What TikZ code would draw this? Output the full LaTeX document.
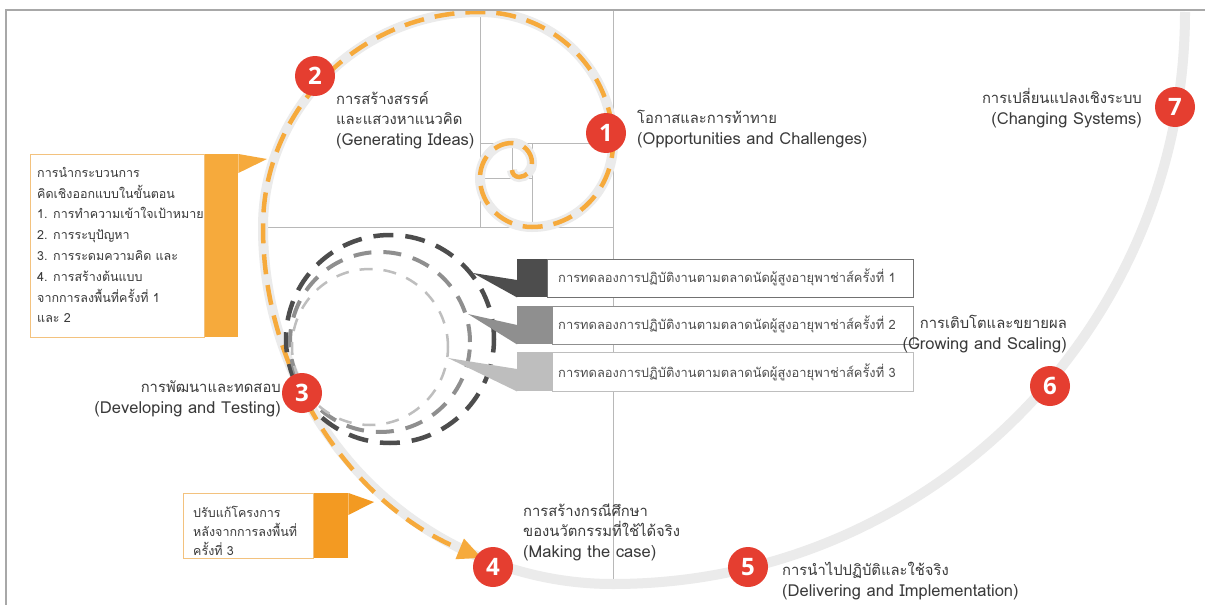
\documentclass[tikz,border=0pt]{standalone}
\usepackage{fontspec}
\setmainfont{Loma}[Script=Thai]
\newfontfamily\numfont{Open Sans}
\usetikzlibrary{arrows.meta}
\definecolor{track}{HTML}{EBEBEB}
\definecolor{orng}{HTML}{F6AA3C}
\definecolor{orngB}{HTML}{F39A22}
\definecolor{orngline}{HTML}{F3C27E}
\definecolor{redc}{HTML}{E53E30}
\definecolor{gridc}{HTML}{B8B8B8}
\definecolor{framec}{HTML}{A8A8A8}
\definecolor{dk}{HTML}{4D4D4D}
\definecolor{md}{HTML}{8F8F8F}
\definecolor{lt}{HTML}{BEBEBE}
\definecolor{txt}{HTML}{3A3A3A}
\newcommand\thl[1]{{\fontsize{14.8}{20.5}\selectfont #1}}
\newcommand\enl[1]{{\fontsize{16.5}{20.5}\selectfont #1}}
\tikzset{
  trackline/.style={draw=track, line width=10pt},
  orngdash/.style={draw=orng, line width=4.5pt, dash pattern=on 20pt off 11pt},
  gridline/.style={draw=gridc, line width=1pt},
  num/.style={circle, fill=redc, minimum size=40pt, inner sep=0pt, text=white,
    font=\numfont\bfseries\fontsize{24}{24}\selectfont},
  lbl/.style={inner sep=0pt, text=txt, font=\fontsize{14.8}{20.5}\selectfont},
  boxtxt/.style={inner sep=0pt, text=txt, align=left, font=\fontsize{12.5}{20.8}\selectfont},
  bartxt/.style={inner sep=0pt, text=txt!90, anchor=west, font=\fontsize{12.9}{15}\selectfont},
  barbox/.style={fill=white, line width=1.1pt, anchor=north west, inner sep=0pt}
}
\begin{document}
\begin{tikzpicture}[x=1pt,y=1pt]
\useasboundingbox (0,0) rectangle (1205,-605);
\fill[white] (0,0) rectangle (1205,-605);
\begin{scope}
\clip (0,-10) rectangle (1205,-605);
% golden grid
\draw[gridline] (613,-10) -- (613,-584);
\draw[gridline] (263,-227) -- (613,-227);
\draw[gridline] (480,-10) -- (480,-227);
\draw[gridline] (480,-143) -- (613,-143);
\draw[gridline] (532,-143) -- (532,-227);
\draw[gridline] (480,-178) -- (532,-178);
\draw[gridline] (512,-143) -- (512,-178);
% spiral track
\draw[trackline] (512,-170)
  arc[start angle=180,end angle=270,radius=7]
  arc[start angle=270,end angle=360,x radius=13,y radius=14]
  arc[start angle=0,end angle=90,radius=20]
  arc[start angle=90,end angle=180,x radius=32,y radius=35]
  arc[start angle=180,end angle=270,x radius=52,y radius=49]
  arc[start angle=270,end angle=360,x radius=81,y radius=84]
  arc[start angle=0,end angle=90,x radius=133,y radius=131]
  arc[start angle=90,end angle=180,x radius=217,y radius=215]
  arc[start angle=180,end angle=270,x radius=350,y radius=357]
  arc[start angle=270,end angle=360,radius=572];
% orange dashed part
\draw[orngdash, -{Triangle[length=24pt,width=21pt]}] (512,-170)
  arc[start angle=180,end angle=270,radius=7]
  arc[start angle=270,end angle=360,x radius=13,y radius=14]
  arc[start angle=0,end angle=90,radius=20]
  arc[start angle=90,end angle=180,x radius=32,y radius=35]
  arc[start angle=180,end angle=270,x radius=52,y radius=49]
  arc[start angle=270,end angle=360,x radius=81,y radius=84]
  arc[start angle=0,end angle=90,x radius=133,y radius=131]
  arc[start angle=90,end angle=180,x radius=217,y radius=215]
  arc[start angle=180,end angle=248,x radius=350,y radius=357];
\end{scope}
% frame
\draw[framec, line width=2pt] (6,-605) -- (6,-10) -- (1205,-10);
% dashed test loops
\draw[dk, line width=4.5pt, dash pattern=on 20pt off 12pt] (390,-339) circle[radius=104];
\draw[md, line width=4pt, dash pattern=on 18pt off 12pt] (380,-342) circle[radius=90];
\draw[lt, line width=2.5pt, dash pattern=on 13pt off 11pt] (370,-347) circle[radius=78];
% bars
\node[barbox, draw=dk!80, minimum width=366pt, minimum height=38pt] (bar1) at (547,-259) {};
\node[fill=dk, anchor=north west, minimum width=30pt, minimum height=38pt, inner sep=0pt] (tab1) at (517,-259) {};
\coordinate (tip1) at (473,-273);
\fill[dk] (tab1.west |- 0,-280) -- (tip1) -- (tab1.south west) -- cycle;
\node[bartxt] (t1) at (558,-277) {การทดลองการปฏิบัติงานตามตลาดนัดผู้สูงอายุพาช่าส์ครั้งที่ 1};
\node[barbox, draw=md, minimum width=361pt, minimum height=38pt] (bar2) at (552,-306) {};
\node[fill=md, anchor=north west, minimum width=35pt, minimum height=38pt, inner sep=0pt] (tab2) at (517,-306) {};
\coordinate (tip2) at (468,-314);
\fill[md] (tab2.west |- 0,-325) -- (tip2) -- (tab2.south west) -- cycle;
\node[bartxt] (t2) at (558,-324) {การทดลองการปฏิบัติงานตามตลาดนัดผู้สูงอายุพาช่าส์ครั้งที่ 2};
\node[barbox, draw=lt, minimum width=361pt, minimum height=39pt] (bar3) at (552,-352) {};
\node[fill=lt, anchor=north west, minimum width=35pt, minimum height=39pt, inner sep=0pt] (tab3) at (517,-352) {};
\coordinate (tip3) at (448,-358);
\fill[lt] (tab3.west |- 0,-369) -- (tip3) -- (tab3.south west) -- cycle;
\node[bartxt] (t3) at (558,-372) {การทดลองการปฏิบัติงานตามตลาดนัดผู้สูงอายุพาช่าส์ครั้งที่ 3};
% callout A
\node[draw=orngline, fill=white, line width=1pt, anchor=north west, minimum width=174pt, minimum height=183pt, inner sep=0pt] (boxA) at (30,-154) {};
\node[fill=orng, anchor=north west, minimum width=33pt, minimum height=183pt, inner sep=0pt] (tabA) at (boxA.north east) {};
\coordinate (tipA) at (267,-159);
\fill[orng] (tabA.north east) -- (tipA) -- ([yshift=-19pt]tabA.north east) -- cycle;
\node[boxtxt, anchor=west] (txtA) at (37,-245) {การนำกระบวนการ\\คิดเชิงออกแบบในขั้นตอน\\1. การทำความเข้าใจเป้าหมาย\\2. การระบุปัญหา\\3. การระดมความคิด และ\\4. การสร้างต้นแบบ\\จากการลงพื้นที่ครั้งที่ 1\\และ 2};
% callout B
\node[draw=orngline, fill=white, line width=1pt, anchor=north west, minimum width=130pt, minimum height=65pt, inner sep=0pt] (boxB) at (183,-493) {};
\node[fill=orngB, anchor=north west, minimum width=34pt, minimum height=65pt, inner sep=0pt] (tabB) at (boxB.north east) {};
\coordinate (tipB) at (374,-502);
\fill[orngB] (tabB.north east) -- (tipB) -- ([yshift=-22pt]tabB.north east) -- cycle;
\node[boxtxt, anchor=west, font=\fontsize{12.5}{19}\selectfont] (txtB) at (193,-531) {ปรับแก้โครงการ\\หลังจากการลงพื้นที่\\ครั้งที่ 3};
% stage markers
\node[num] (n1) at (606,-133) {1};
\node[num] (n2) at (315,-76) {2};
\node[num] (n3) at (302,-393) {3};
\node[num] (n4) at (493,-567) {4};
\node[num] (n5) at (748,-567) {5};
\node[num] (n6) at (1050,-386) {6};
\node[num] (n7) at (1175,-107) {7};
% labels
\node[lbl, anchor=west, align=left] (l1) at (637,-129) {\thl{โอกาสและการท้าทาย}\\\enl{(Opportunities and Challenges)}};
\node[lbl, anchor=west, align=left] (l2) at (336,-120) {\thl{การสร้างสรรค์}\\\thl{และแสวงหาแนวคิด}\\\enl{(Generating Ideas)}};
\node[lbl, anchor=east, align=right] (l7) at (1142,-108) {\thl{การเปลี่ยนแปลงเชิงระบบ}\\\enl{(Changing Systems)}};
\node[lbl, anchor=east, align=right] (l6) at (1067,-334) {\thl{การเติบโตและขยายผล}\\\enl{(Growing and Scaling)}};
\node[lbl, anchor=east, align=right] (l3) at (281,-399) {\thl{การพัฒนาและทดสอบ}\\\enl{(Developing and Testing)}};
\node[lbl, anchor=west, align=left] (l4) at (523,-532) {\thl{การสร้างกรณีศึกษา}\\\thl{ของนวัตกรรมที่ใช้ได้จริง}\\\enl{(Making the case)}};
\node[lbl, anchor=west, align=left] (l5) at (782,-581) {\thl{การนำไปปฏิบัติและใช้จริง}\\\enl{(Delivering and Implementation)}};
\end{tikzpicture}
\end{document}
